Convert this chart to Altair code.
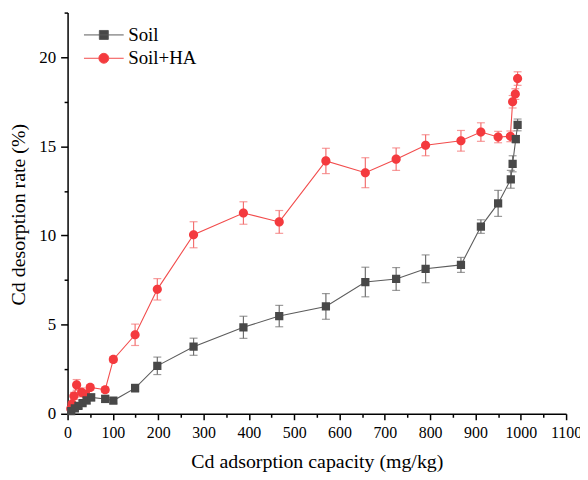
import altair as alt
import pandas as pd

# ---- data ----
soil_x = [8, 16, 24, 33, 42, 52, 83, 101, 149, 198, 278, 388, 467, 570, 657, 725, 790, 868, 912, 950, 978, 982, 989, 993]
soil_y = [0.15, 0.3, 0.45, 0.6, 0.75, 0.92, 0.83, 0.74, 1.44, 2.69, 3.76, 4.85, 5.48, 6.02, 7.39, 7.56, 8.13, 8.35, 10.5, 11.8, 13.15, 14.02, 15.41, 16.2]
soil_err = [0.1, 0.1, 0.15, 0.15, 0.2, 0.2, 0.2, 0.15, 0.22, 0.49, 0.48, 0.62, 0.6, 0.72, 0.83, 0.64, 0.78, 0.42, 0.38, 0.73, 0.5, 0.45, 0.2, 0.33]

ha_x = [7, 10, 14, 20, 31, 40, 50, 83, 101, 149, 198, 278, 388, 467, 570, 657, 725, 790, 868, 912, 950, 977, 982, 988, 993]
ha_y = [0.28, 0.55, 1.0, 1.62, 1.2, 1.1, 1.48, 1.35, 3.05, 4.43, 6.98, 10.04, 11.26, 10.76, 14.18, 13.52, 14.28, 15.06, 15.31, 15.8, 15.52, 15.56, 17.5, 17.93, 18.8]
ha_err = [0.1, 0.15, 0.2, 0.3, 0.25, 0.2, 0.15, 0.15, 0.15, 0.6, 0.6, 0.73, 0.63, 0.64, 0.71, 0.84, 0.63, 0.59, 0.58, 0.52, 0.32, 0.3, 0.35, 0.3, 0.38]

series_names = ["Soil", "Soil+HA"]
x_major = list(range(0, 1101, 100))
x_minor = list(range(50, 1100, 100))
y_major = [0, 5, 10, 15, 20]
y_minor = [2.5, 7.5, 12.5, 17.5, 22.5]

rows = []
for i, (a, b, e) in enumerate(zip(ha_x, ha_y, ha_err)):
    rows.append({"series": "Soil+HA", "i": i, "x": a, "y": b, "lo": b - e, "hi": b + e})
for i, (a, b, e) in enumerate(zip(soil_x, soil_y, soil_err)):
    rows.append({"series": "Soil", "i": i, "x": a, "y": b, "lo": b - e, "hi": b + e})
df = pd.DataFrame(rows)

FONT = "Liberation Serif"
GRAY_M, GRAY_L, GRAY_E = "#484848", "#5c5c5c", "#707070"
RED_M, RED_L, RED_E = "#f43a3e", "#f24c4c", "#f37070"

xs = alt.Scale(domain=[0, 1100], nice=False, zero=False)
ys = alt.Scale(domain=[0, 22.5], nice=False, zero=False)

ax_common = dict(grid=False, domainColor="black", tickColor="black", labelColor="black",
                 labelFont=FONT, titleFont=FONT, titleFontWeight="normal", titleColor="black",
                 labelFlush=False, labelOverlap=False, domainWidth=1.5, tickWidth=1.5, format="d")

x_axis_major = alt.Axis(values=x_major, orient="bottom", tickSize=6, labelPadding=5, labelFontSize=16,
                        title="Cd adsorption capacity (mg/kg)", titleFontSize=20,
                        titleY=54, titleBaseline="alphabetic", **ax_common)
y_axis_major = alt.Axis(values=y_major, orient="left", tickSize=7, labelPadding=5, labelFontSize=17,
                        title="Cd desorption rate (%)", titleFontSize=20,
                        titleX=-49, titleY=203, titleBaseline="middle", titleAlign="center",
                        titleAngle=270, **ax_common)
x_axis_minor = alt.Axis(values=x_minor, orient="bottom", tickSize=3.5, labels=False, title=None,
                        domain=False, grid=False, tickColor="black", tickWidth=1.5)
y_axis_minor = alt.Axis(values=y_minor, orient="left", tickSize=3.5, labels=False, title=None,
                        domain=False, grid=False, tickColor="black", tickWidth=1.5)

base = alt.Chart(df)


def series_layers(name, lcol, ecol, axes):
    xa, ya = axes
    b = base.transform_filter(alt.datum.series == name)
    line = b.mark_line(strokeWidth=1.1, color=lcol).encode(
        x=alt.X("x:Q", scale=xs, axis=xa[0]),
        y=alt.Y("y:Q", scale=ys, axis=ya[0]),
        order="i:Q",
    )
    rule = b.mark_rule(strokeWidth=1.2, color=ecol).encode(
        x=alt.X("x:Q", scale=xs, axis=xa[1]),
        y=alt.Y("lo:Q", scale=ys, axis=ya[1]),
        y2="hi:Q",
    )
    cap_lo = b.mark_tick(orient="horizontal", size=8, thickness=1.2, color=ecol).encode(
        x=alt.X("x:Q", scale=xs, axis=None), y=alt.Y("lo:Q", scale=ys, axis=None))
    cap_hi = b.mark_tick(orient="horizontal", size=8, thickness=1.2, color=ecol).encode(
        x=alt.X("x:Q", scale=xs, axis=None), y=alt.Y("hi:Q", scale=ys, axis=None))
    return [line, rule, cap_lo, cap_hi]


ha_layers = series_layers("Soil+HA", RED_L, RED_E, ((x_axis_major, x_axis_minor), (y_axis_major, y_axis_minor)))
soil_layers = series_layers("Soil", GRAY_L, GRAY_E, ((None, None), (None, None)))

# marker shapes; the horizontal segment is only stroked in the legend (data markers have no stroke)
square_sym = "M-4,0H4M-0.9,-0.9H0.9V0.9H-0.9Z"
circle_sym = "M-4,0H-1A1,1 0 1,1 1,0A1,1 0 1,1 -1,0M1,0H4"

legend = alt.Legend(
    orient="none", legendX=27, legendY=13, title=None, padding=0,
    labelFont=FONT, labelFontSize=19, labelColor="black", labelOffset=15,
    symbolSize=100, rowPadding=3.5, symbolOpacity=1, symbolStrokeWidth=1,
)

points = base.mark_point(filled=True, opacity=1, size=85).encode(
    x=alt.X("x:Q", scale=xs, axis=None),
    y=alt.Y("y:Q", scale=ys, axis=None),
    color=alt.Color("series:N", scale=alt.Scale(domain=series_names, range=[GRAY_M, RED_M]), legend=legend),
    stroke=alt.Stroke("series:N", scale=alt.Scale(domain=series_names, range=[GRAY_L, RED_L]), legend=legend),
    shape=alt.Shape("series:N", scale=alt.Scale(domain=series_names, range=[square_sym, circle_sym]), legend=legend),
    strokeWidth=alt.value(0),
)

chart = alt.layer(*ha_layers, *soil_layers, points).resolve_axis(
    x="independent", y="independent"
).properties(
    width=502, height=404,
    autosize=alt.AutoSizeParams(type="none"),
    padding={"left": 60, "top": 3, "right": 14, "bottom": 57},
    background="white",
).configure_view(stroke=None)

chart.save("out.html", embed_options={"renderer": "svg", "actions": False})
